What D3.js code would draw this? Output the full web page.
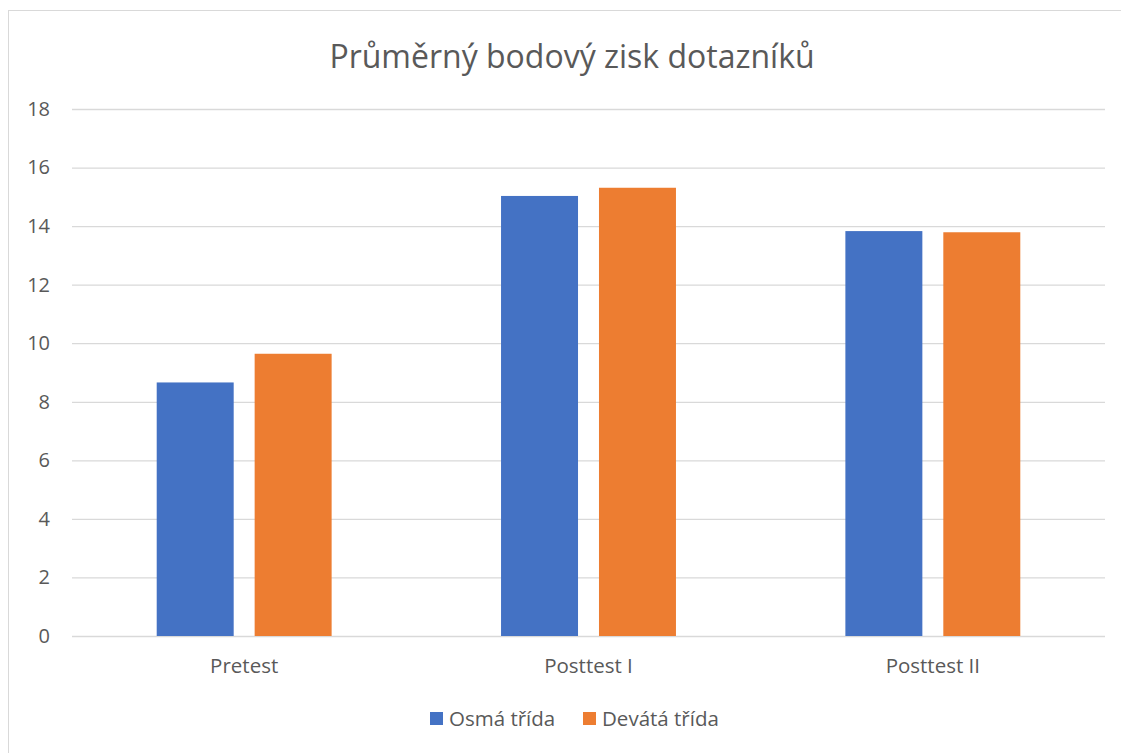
<!DOCTYPE html>
<html>
<head>
<meta charset="utf-8">
<script src="https://cdn.jsdelivr.net/npm/d3@7"></script>
<style>
  body { margin: 0; background: #fff; }
  text { font-family: "Open Sans", "Noto Sans", sans-serif; fill: #595959; }
</style>
</head>
<body>
<div id="chart"></div>
<script>
const categories = ["Pretest", "Posttest I", "Posttest II"];
const seriesNames = ["Osmá třída", "Devátá třída"];
const osma = [8.66, 15.03, 13.83];
const devata = [9.64, 15.31, 13.79];
const yTicks = [0, 2, 4, 6, 8, 10, 12, 14, 16, 18];
const colors = ["#4472c4", "#ed7d31"];

const W = 1121, H = 753;
const plot = {left: 72, right: 1105, top: 109, bottom: 636};

const svg = d3.select("#chart")
  .append("svg")
    .attr("width", W)
    .attr("height", H);

// chart border
svg.append("rect")
  .attr("x", 8.5).attr("y", 10.5)
  .attr("width", W).attr("height", H)
  .attr("fill", "none")
  .attr("stroke", "#d9d9d9");

// title
svg.append("text")
  .attr("x", 572).attr("y", 68)
  .attr("text-anchor", "middle")
  .style("font-size", "32px")
  .text("Průměrný bodový zisk dotazníků");

const y = d3.scaleLinear()
  .domain([0, 18])
  .range([plot.bottom, plot.top]);

const x0 = d3.scaleBand()
  .domain(categories)
  .range([plot.left, plot.right]);

const bw = x0.bandwidth();
const x1 = d3.scaleBand()
  .domain(seriesNames)
  .range([bw * 0.246, bw * 0.754])
  .paddingInner(0.214);

// gridlines + y labels
svg.append("g")
  .attr("transform", `translate(${plot.left},0)`)
  .call(d3.axisLeft(y).tickValues(yTicks).tickSize(-(plot.right - plot.left)).tickPadding(22))
  .call(g => g.select(".domain").remove())
  .call(g => g.selectAll(".tick line").attr("stroke", "#d9d9d9").attr("stroke-width", 1.3))
  .call(g => g.selectAll(".tick text").style("font-size", "20px").attr("fill", "#595959"));

const data = categories.map((c, i) => ({cat: c, values: [osma[i], devata[i]]}));

svg.append("g")
  .selectAll("g")
  .data(data)
  .join("g")
    .attr("transform", d => `translate(${x0(d.cat)},0)`)
  .selectAll("rect")
  .data(d => d.values.map((v, j) => ({key: seriesNames[j], value: v, j: j})))
  .join("rect")
    .attr("x", d => x1(d.key))
    .attr("width", x1.bandwidth())
    .attr("y", d => y(d.value))
    .attr("height", d => y(0) - y(d.value))
    .attr("fill", d => colors[d.j]);

// x axis labels
svg.append("g")
  .attr("transform", `translate(0,${plot.bottom})`)
  .call(d3.axisBottom(x0).tickSize(0).tickPadding(22))
  .call(g => g.select(".domain").remove())
  .call(g => g.selectAll(".tick text").style("font-size", "20.5px").attr("fill", "#595959"));

// legend
const legendX = [430, 583];
const legend = svg.append("g")
  .selectAll("g")
  .data(seriesNames)
  .join("g")
    .attr("transform", (d, i) => `translate(${legendX[i]},712)`);
legend.append("rect")
  .attr("width", 13).attr("height", 13)
  .attr("fill", (d, i) => colors[i]);
legend.append("text")
  .attr("x", 19).attr("y", 14)
  .style("font-size", "20.5px")
  .text(d => d);
</script>
</body>
</html>
